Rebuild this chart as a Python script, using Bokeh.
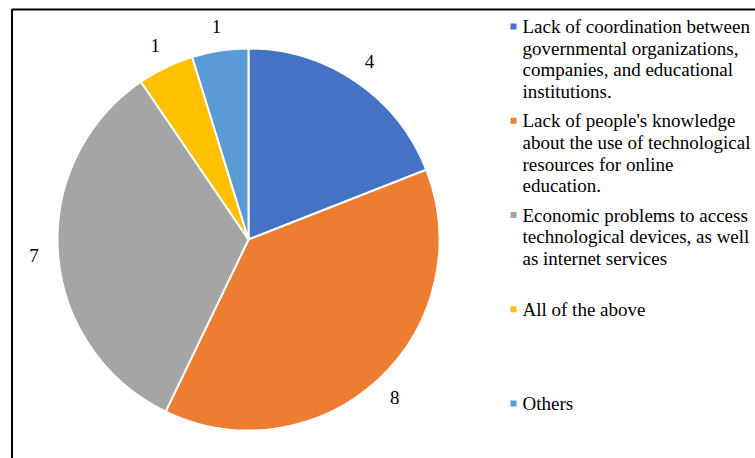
import numpy as np
from bokeh.plotting import figure
from bokeh.models import Range1d, ColumnDataSource
from bokeh.core.properties import value
from bokeh.embed import file_html
from bokeh.resources import INLINE

# ---- data ----
categories = [
    "Lack of coordination between governmental organizations, companies, and educational institutions.",
    "Lack of people's knowledge about the use of technological resources for online education.",
    "Economic problems to access technological devices, as well as internet services",
    "All of the above",
    "Others",
]
legend_lines = [
    ["Lack of coordination between", "governmental organizations,", "companies, and educational", "institutions."],
    ["Lack of people's knowledge", "about the use of technological", "resources for online", "education."],
    ["Economic problems to access", "technological devices, as well", "as internet services"],
    ["All of the above"],
    ["Others"],
]
counts = [4, 8, 7, 1, 1]
colors = ["#4472C4", "#ED7D31", "#A5A5A5", "#FFC000", "#5B9BD5"]

# ---- layout constants (pixels) ----
W, H = 755, 458
FONT = "Liberation Serif"
cx, cy = 248, H - 239      # pie centre (y up)
R = 191
R_LABEL = 215

p = figure(width=W, height=H, output_backend="svg", toolbar_location=None,
           x_range=Range1d(0, W), y_range=Range1d(0, H), min_border=0)
p.axis.visible = False
p.grid.visible = False
p.outline_line_color = None
p.background_fill_color = "white"
p.border_fill_color = "white"

# pie
vals = np.array(counts, dtype=float)
frac = vals / vals.sum()
cum_end = np.cumsum(frac) * 2 * np.pi
cum_start = cum_end - frac * 2 * np.pi
start = np.pi / 2 - cum_start
end = np.pi / 2 - cum_end
src = ColumnDataSource(dict(start=start, end=end, color=colors, cat=categories))
p.wedge(x=cx, y=cy, radius=R, start_angle="start", end_angle="end", direction="clock",
        fill_color="color", line_color="white", line_width=2, source=src)

# data labels
mid = (cum_start + cum_end) / 2
lx = cx + R_LABEL * np.sin(mid)
ly = cy + R_LABEL * np.cos(mid)
p.text(x=lx, y=ly, text=[str(c) for c in counts], text_font=value(FONT),
       text_font_size="19px", text_align="center", text_baseline="middle",
       text_color="#000000")

# legend (manual)
leg_x_marker = 513
leg_x_text = 522
first_y = H - 26
entry_step = 94.25
line_step = 21.7
mx, my, mc = [], [], []
tx, ty, tt = [], [], []
for i, lines in enumerate(legend_lines):
    y0 = first_y - i * entry_step
    mx.append(leg_x_marker); my.append(y0); mc.append(colors[i])
    for j, ln in enumerate(lines):
        tx.append(leg_x_text); ty.append(y0 - j * line_step); tt.append(ln)
p.scatter(x=mx, y=my, marker="square", size=6, fill_color=mc, line_color=None)
p.text(x=tx, y=ty, text=tt, text_font=value(FONT), text_font_size="19px",
       text_align="left", text_baseline="middle", text_color="#000000")

# chart border (top and left edges visible)
p.line(x=[11.5, 11.5, W], y=[0, H - 9, H - 9], line_color="#000000", line_width=2)

open("out.html", "w").write(file_html(p, INLINE))
